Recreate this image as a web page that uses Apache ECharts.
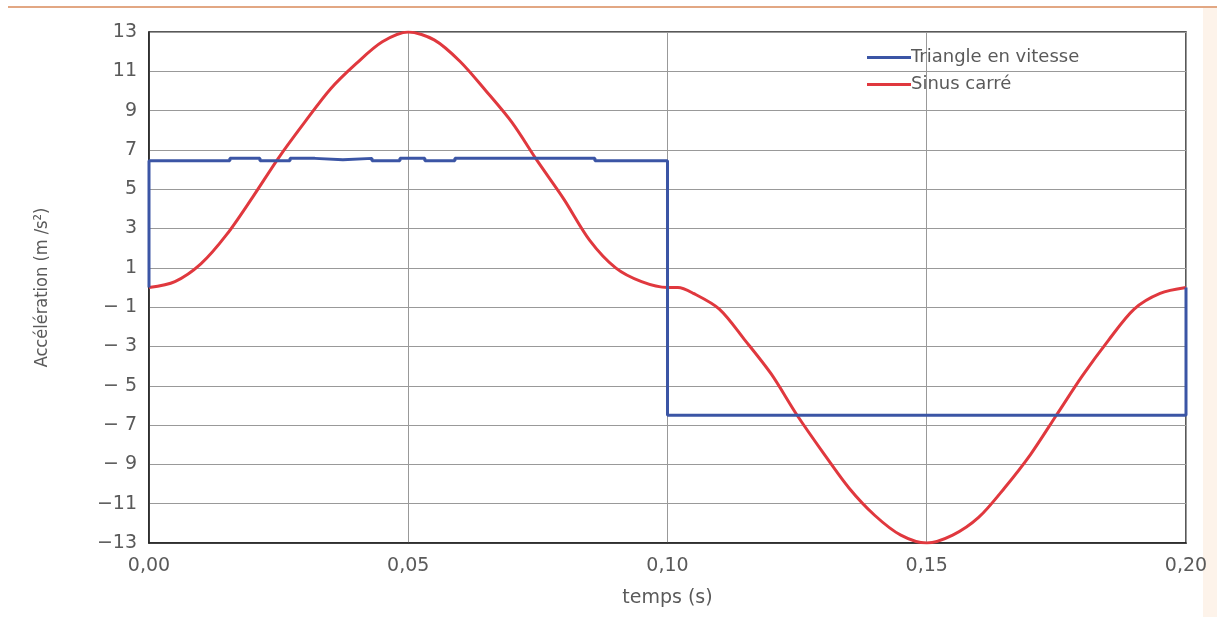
<!DOCTYPE html>
<html>
<head>
<meta charset="utf-8">
<script src="https://cdn.jsdelivr.net/npm/echarts@6/dist/echarts.min.js"></script>
<style>html,body{margin:0;padding:0;background:#fff}#c{width:1217px;height:617px}</style>
</head>
<body>
<div id="c"></div>
<script>
// Sinus carré (red)
const sinT = [0,0.005,0.01,0.015,0.02,0.025,0.03,0.035,0.04,0.045,0.05,0.055,0.06,0.065,0.07,0.075,0.08,0.085,0.09,0.095,0.1,0.102,0.105,0.11,0.115,0.12,0.125,0.13,0.135,0.14,0.145,0.15,0.155,0.16,0.165,0.17,0.175,0.18,0.185,0.19,0.195,0.2];
const sinV = [0,0.3,1.2,2.7,4.6,6.6,8.4,10.1,11.4,12.5,13,12.6,11.5,10.0,8.4,6.4,4.5,2.4,1.0,0.3,0,0,-0.3,-1.1,-2.7,-4.4,-6.5,-8.4,-10.2,-11.6,-12.6,-13,-12.6,-11.7,-10.2,-8.5,-6.5,-4.5,-2.7,-1.1,-0.3,0];
// Triangle en vitesse (blue)
const triT = [0,0,0.0156,0.0156,0.0214,0.0214,0.0272,0.0272,0.032,0.032,0.0374,0.0374,0.043,0.043,0.0484,0.0484,0.0532,0.0532,0.059,0.059,0.086,0.086,0.1,0.1,0.2,0.2];
const triV = [0,6.45,6.45,6.57,6.57,6.45,6.45,6.57,6.57,6.5,6.5,6.57,6.57,6.45,6.45,6.57,6.57,6.45,6.45,6.57,6.57,6.45,6.45,-6.5,-6.5,0];
const seriesNames = ['Triangle en vitesse','Sinus carré'];
const xAxisName = 'temps (s)';
const yAxisName = 'Accélération (m /s²)';

const FONT = '"DejaVu Sans", "Open Sans", sans-serif';
const NARROW = '"Liberation Sans Narrow", "DejaVu Sans Condensed", "Liberation Sans", sans-serif';
const TXT = '#5a5a5a';
const chart = echarts.init(document.getElementById('c'));
chart.setOption({
  animation:false,
  backgroundColor:'#fff',
  grid:{left:149,right:31,top:32,bottom:74,show:true,borderColor:'#222',borderWidth:1.5},
  legend:{
    orient:'vertical',left:862,top:42,itemWidth:44,itemHeight:3,itemGap:6,icon:'rect',
    textStyle:{fontFamily:FONT,fontSize:18,color:TXT,padding:[0,0,0,-5],lineHeight:21},
    data:seriesNames
  },
  xAxis:{
    type:'value',min:0,max:0.2,interval:0.05,
    name:xAxisName,nameLocation:'middle',nameGap:46,
    nameTextStyle:{fontFamily:FONT,fontSize:19,color:TXT},
    axisLine:{show:true,onZero:false,lineStyle:{color:'#222',width:1.5}},
    axisTick:{show:false},
    axisLabel:{fontFamily:FONT,fontSize:19,color:TXT,margin:14,
      formatter:v=>v.toFixed(2).replace('.',',')},
    splitLine:{show:true,lineStyle:{color:'#999',width:1}}
  },
  yAxis:{
    type:'value',min:-13,max:13,interval:2,
    name:yAxisName,nameLocation:'middle',nameGap:98,nameRotate:90,
    nameTextStyle:{fontFamily:NARROW,fontSize:18,color:TXT},
    axisLine:{show:true,onZero:false,lineStyle:{color:'#222',width:1.5}},
    axisTick:{show:false},
    axisLabel:{fontFamily:FONT,fontSize:19,color:TXT,margin:12,
      formatter:v=>v<0?(Math.abs(v)<10?'− '+Math.abs(v):'−'+Math.abs(v)):String(v)},
    splitLine:{show:true,lineStyle:{color:'#999',width:1}}
  },
  series:[
    {name:seriesNames[0],type:'line',showSymbol:false,symbol:'none',
     data:triT.map((t,i)=>[t,triV[i]]),
     lineStyle:{color:'#3b55a5',width:3},itemStyle:{color:'#3b55a5'},z:3},
    {name:seriesNames[1],type:'line',showSymbol:false,symbol:'none',smooth:0.3,
     data:sinT.map((t,i)=>[t,sinV[i]]),
     lineStyle:{color:'#e0383e',width:3},itemStyle:{color:'#e0383e'},z:2}
  ],
  graphic:[
    {type:'line',shape:{x1:8,y1:7,x2:1217,y2:7},style:{stroke:'#d98a5a',lineWidth:1.5},silent:true},
    {type:'rect',shape:{x:1203,y:8,width:14,height:609},style:{fill:'#fdf3ea'},silent:true}
  ]
});
</script>
</body>
</html>
